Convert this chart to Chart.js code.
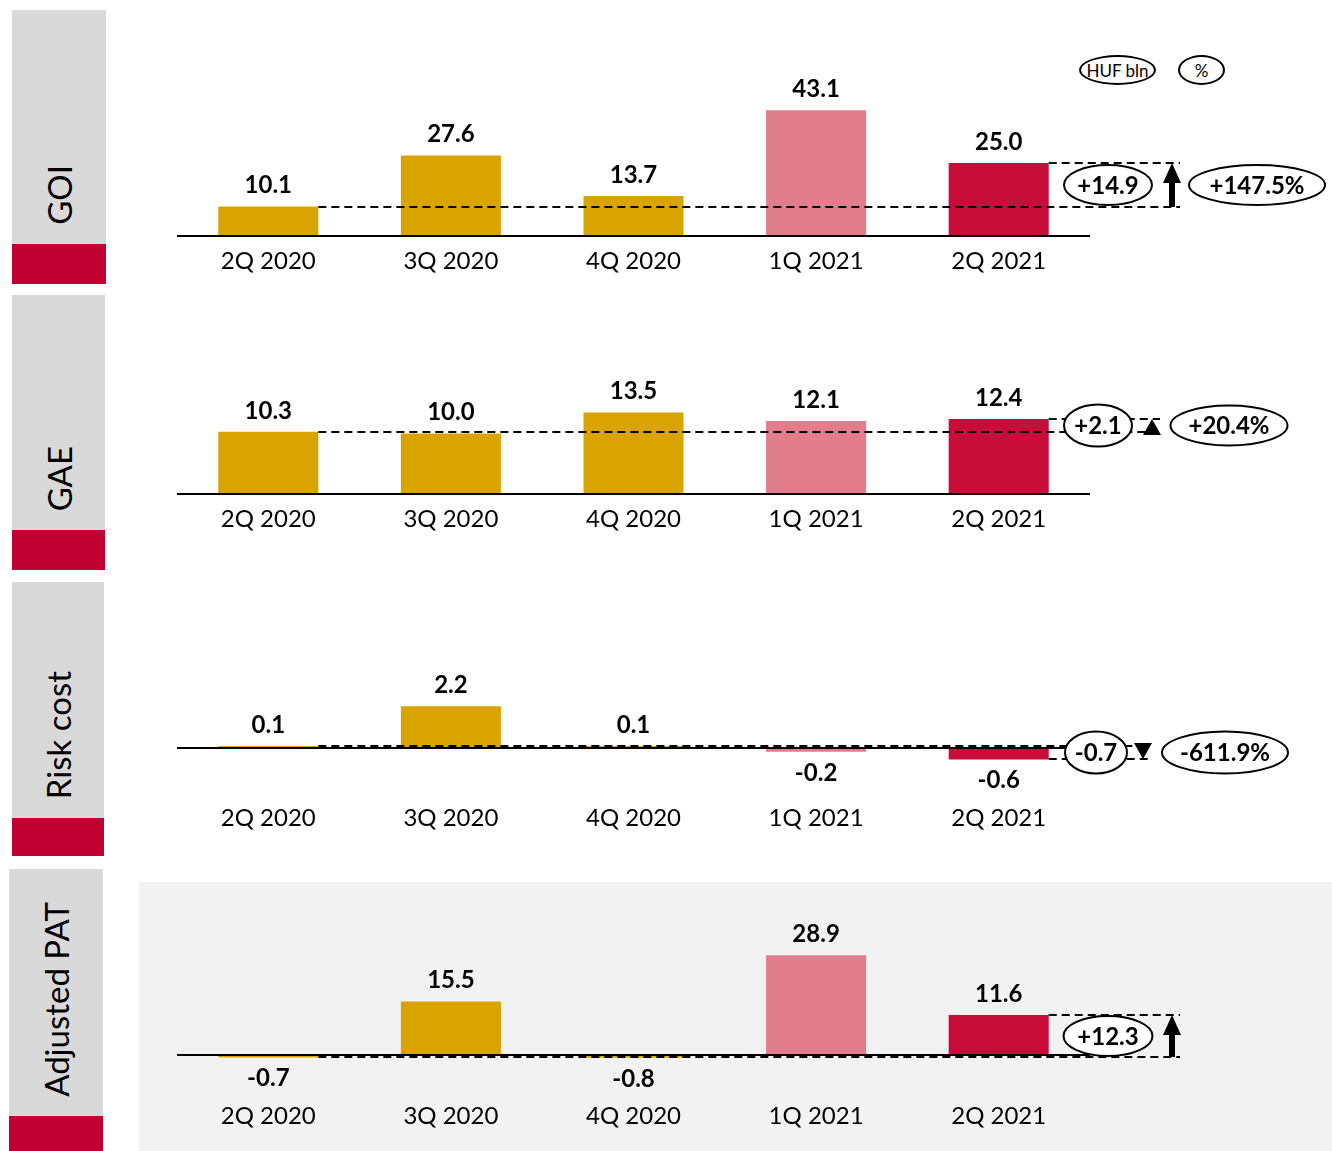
<!DOCTYPE html>
<html>
<head>
<meta charset="utf-8">
<script src="https://cdn.jsdelivr.net/npm/chart.js@4.4.1/dist/chart.umd.min.js"></script>
<style>
  body { margin: 0; background: #fff; font-family: Lato, sans-serif; }
  #page { position: relative; width: 1332px; height: 1151px; overflow: hidden; }
  .side { position: absolute; background: #d9d9d9; }
  .side .red { position: absolute; left: 0; right: 0; bottom: 0; background: #c00033; }
  .side .name { position: absolute; left: 0; right: 0; display: flex; justify-content: center; }
  .side .name span { writing-mode: vertical-rl; transform: rotate(180deg); font-size: 33px; color: #000; white-space: nowrap; }
  .panel { position: absolute; left: 139px; }
  .oval { position: absolute; border: 2px solid #000; border-radius: 50%; box-sizing: border-box;
          display: flex; align-items: center; justify-content: center; font-size: 17px; color: #000; background: #fff; }
  #patBg { position: absolute; left: 139px; top: 882px; width: 1193px; height: 269px; background: #f2f2f2; }
</style>
</head>
<body>
<div id="page">
  <div id="patBg"></div>
  <div class="oval" style="left:1079px;top:55px;width:77px;height:30px;">HUF bln</div>
  <div class="oval" style="left:1178px;top:55px;width:47px;height:30px;">%</div>
</div>
<script>
const quarters = ['2Q 2020', '3Q 2020', '4Q 2020', '1Q 2021', '2Q 2021'];
const goiValues = [10.1, 27.6, 13.7, 43.1, 25.0];
const gaeValues = [10.3, 10.0, 13.5, 12.1, 12.4];
const riskCostValues = [0.1, 2.2, 0.1, -0.2, -0.6];
const adjPatValues = [-0.7, 15.5, -0.8, 28.9, 11.6];
const barColors = ['#d9a300', '#d9a300', '#d9a300', '#e27d8c', '#c90d3a'];
const panelNames = ['GOI', 'GAE', 'Risk cost', 'Adjusted PAT'];
const changeAbs = ['+14.9', '+2.1', '-0.7', '+12.3'];
const changePct = ['+147.5%', '+20.4%', '-611.9%', ''];

// left side label boxes
const sides = [
  { left: 12, top: 10, width: 94, height: 274, red: 40 },
  { left: 12, top: 295, width: 93, height: 275, red: 40 },
  { left: 12, top: 582, width: 92, height: 274, red: 38 },
  { left: 9, top: 869, width: 94, height: 282, red: 35 }
];

// chart panels, canvas spans x 139..1332
const panels = [
  { values: goiValues, top: 0, height: 290, padTop: 40, padBottom: 9, min: 0, max: 67.12,
    mark: { lineEnd: 90, arrowX: 82, ovalX: 18, ovalW: 88, ovalH: 40, pctX: 167, pctW: 136, pctH: 40 } },
  { values: gaeValues, top: 290, height: 290, padTop: 40, padBottom: 41, min: 0, max: 27.15,
    mark: { lineEnd: 70, arrowX: 62, ovalX: 8, ovalW: 68, ovalH: 42, pctX: 139, pctW: 117, pctH: 40 } },
  { values: riskCostValues, top: 580, height: 290, padTop: 40, padBottom: 32, min: -2.37, max: 6.74,
    mark: { lineEnd: 60, arrowX: 53, ovalX: 6, ovalW: 62, ovalH: 42, pctX: 135, pctW: 126, pctH: 42 } },
  { values: adjPatValues, top: 870, height: 281, padTop: 40, padBottom: 15, min: -10.43, max: 42.03,
    mark: { lineEnd: 90, arrowX: 82, ovalX: 18, ovalW: 89, ovalH: 40, pctX: 0, pctW: 0, pctH: 0 } }
];

const page = document.getElementById('page');

sides.forEach((s, i) => {
  const d = document.createElement('div');
  d.className = 'side';
  d.style.cssText = `left:${s.left}px;top:${s.top}px;width:${s.width}px;height:${s.height}px;`;
  d.innerHTML = `<div class="red" style="height:${s.red}px"></div>` +
    `<div class="name" style="bottom:${s.red + 19}px"><span>${panelNames[i]}</span></div>`;
  page.appendChild(d);
});

function oval(ctx, cx, cy, w, h, text) {
  ctx.beginPath();
  ctx.ellipse(cx, cy, w / 2, h / 2, 0, 0, Math.PI * 2);
  ctx.fillStyle = '#fff';
  ctx.fill();
  ctx.lineWidth = 2;
  ctx.strokeStyle = '#000';
  ctx.stroke();
  ctx.fillStyle = '#000';
  ctx.font = 'bold 24px Lato';
  ctx.textAlign = 'center';
  ctx.textBaseline = 'middle';
  ctx.fillText(text, cx, cy + 1);
}

const markers = {
  id: 'markers',
  afterDatasetsDraw(chart, args, opts) {
    const ctx = chart.ctx;
    const { left, right } = chart.chartArea;
    const ys = chart.scales.y;
    const bars = chart.getDatasetMeta(0).data;
    const vals = chart.data.datasets[0].data;
    ctx.save();

    // zero line
    const y0 = Math.round(ys.getPixelForValue(0));
    ctx.strokeStyle = '#000';
    ctx.lineWidth = 2;
    ctx.beginPath();
    ctx.moveTo(left, y0);
    ctx.lineTo(right, y0);
    ctx.stroke();

    // value labels
    ctx.fillStyle = '#000';
    ctx.font = 'bold 24px Lato';
    ctx.textAlign = 'center';
    ctx.textBaseline = 'middle';
    bars.forEach((b, i) => {
      const v = vals[i];
      ctx.fillText(v.toFixed(1), b.x, v >= 0 ? b.y - 21 : b.y + 21);
    });

    // dashed reference lines, first and last quarter
    const first = bars[0], last = bars[bars.length - 1];
    const yA = Math.round(ys.getPixelForValue(vals[0]));
    const yB = Math.round(ys.getPixelForValue(vals[vals.length - 1]));
    const xEnd = right + opts.lineEnd;
    ctx.setLineDash([8, 5]);
    ctx.beginPath();
    ctx.moveTo(first.x + first.width / 2, yA);
    ctx.lineTo(xEnd, yA);
    ctx.moveTo(last.x + last.width / 2, yB);
    ctx.lineTo(xEnd, yB);
    ctx.stroke();
    ctx.setLineDash([]);

    // arrow
    const ax = right + opts.arrowX;
    const dir = yB < yA ? -1 : 1;
    const len = Math.abs(yB - yA);
    const hh = Math.max(16, Math.min(20, len));
    const base = yB - dir * hh;
    ctx.fillStyle = '#000';
    if (len > hh) ctx.fillRect(ax - 3, Math.min(yA, base), 6, len - hh);
    ctx.beginPath();
    ctx.moveTo(ax, yB);
    ctx.lineTo(ax - 9, base);
    ctx.lineTo(ax + 9, base);
    ctx.closePath();
    ctx.fill();

    // change ovals
    const cy = (yA + yB) / 2;
    oval(ctx, right + opts.ovalX, cy, opts.ovalW, opts.ovalH, opts.abs);
    if (opts.pct) oval(ctx, right + opts.pctX, cy, opts.pctW, opts.pctH, opts.pct);
    ctx.restore();
  }
};

panels.forEach((p, i) => {
  const wrap = document.createElement('div');
  wrap.className = 'panel';
  wrap.style.top = p.top + 'px';
  const cv = document.createElement('canvas');
  cv.width = 1193;
  cv.height = p.height;
  wrap.appendChild(cv);
  page.appendChild(wrap);

  new Chart(cv, {
    type: 'bar',
    data: {
      labels: quarters,
      datasets: [{
        data: p.values,
        backgroundColor: barColors,
        borderWidth: 0,
        barPercentage: 0.548,
        categoryPercentage: 1.0
      }]
    },
    options: {
      responsive: false,
      animation: false,
      layout: { padding: { left: 38, right: 242, top: p.padTop, bottom: p.padBottom } },
      plugins: {
        legend: { display: false },
        tooltip: { enabled: false },
        markers: Object.assign({ abs: changeAbs[i], pct: changePct[i] }, p.mark)
      },
      scales: {
        x: {
          grid: { display: false, drawTicks: false },
          border: { display: false },
          ticks: { color: '#000', padding: 11, font: { family: 'Lato', size: 24 } },
          afterFit: (s) => { s.height = 45; }
        },
        y: { display: false, min: p.min, max: p.max }
      }
    },
    plugins: [markers]
  });
});
</script>
</body>
</html>
